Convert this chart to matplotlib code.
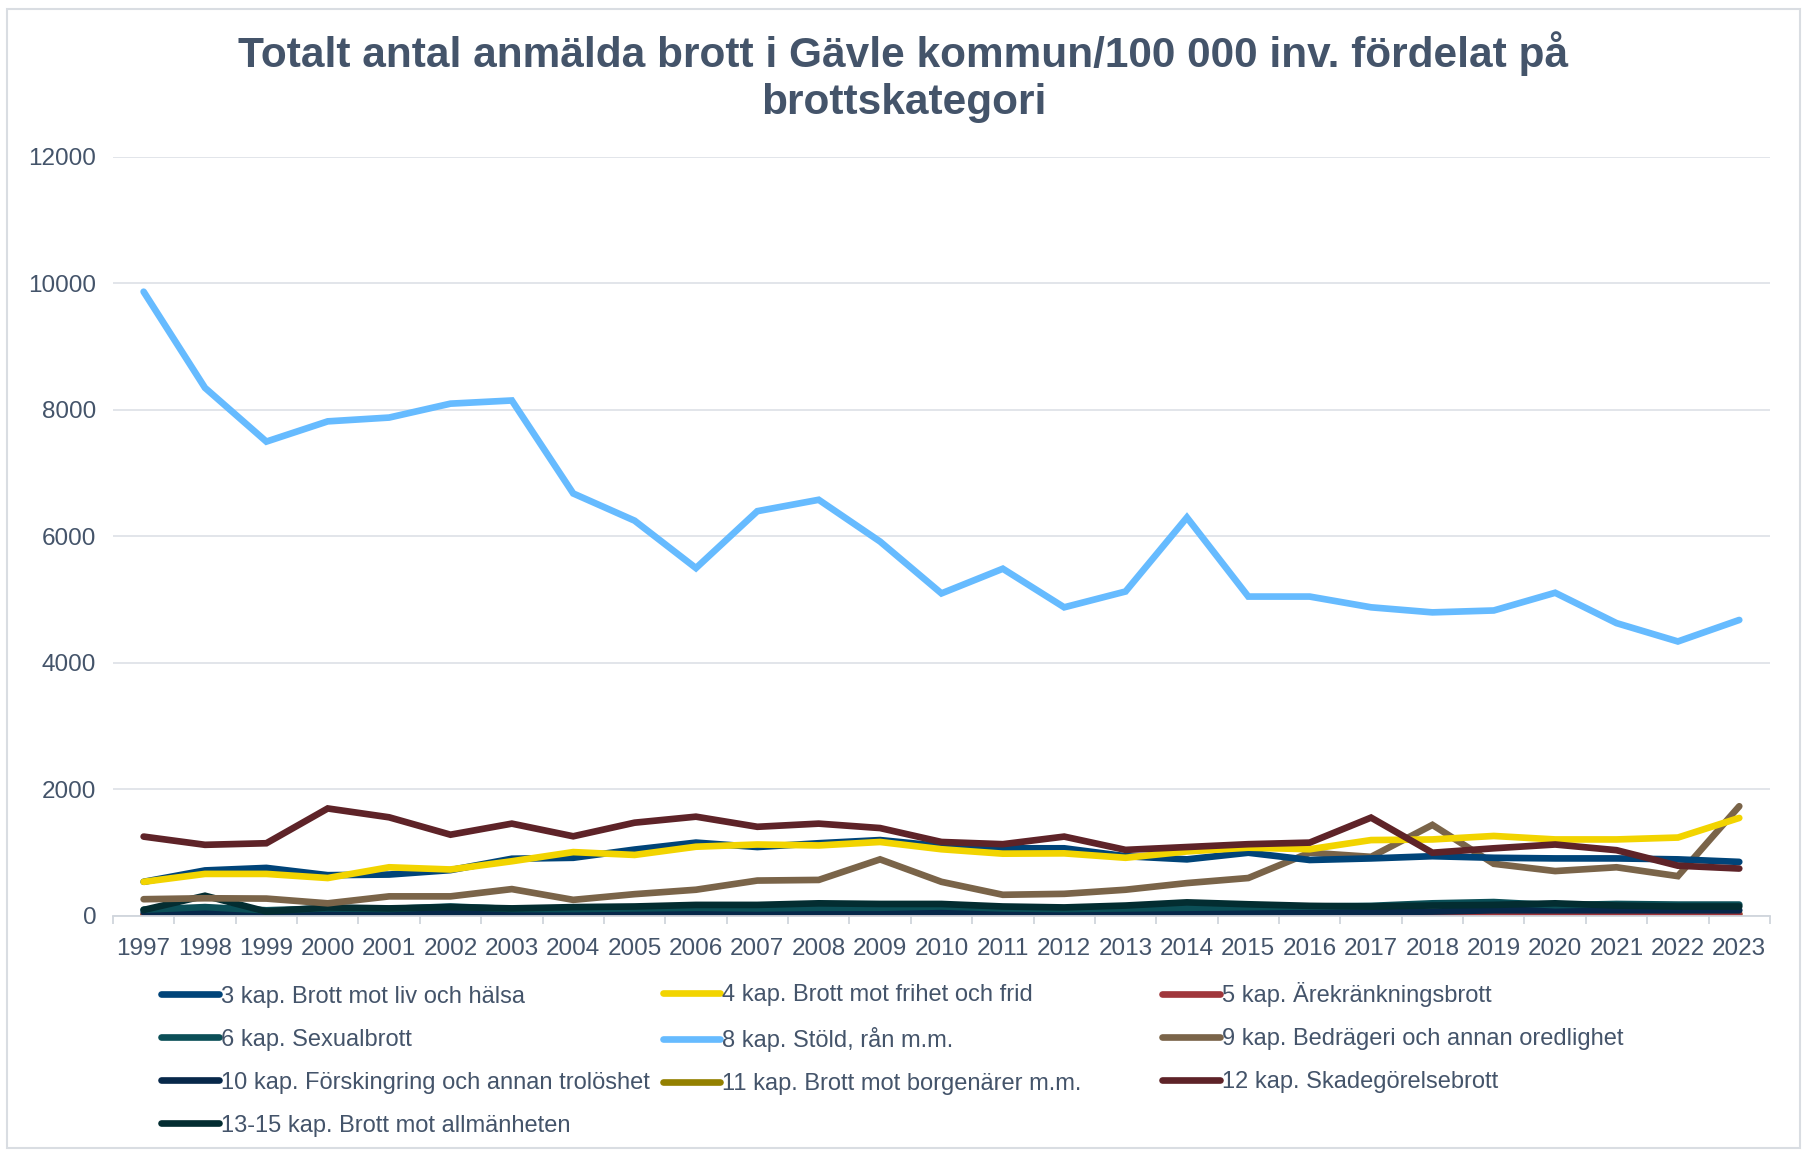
import matplotlib
matplotlib.use('Agg')
import matplotlib.pyplot as plt
from matplotlib.patches import Rectangle

plt.rcParams['font.family'] = ['Liberation Sans', 'DejaVu Sans']

years = list(range(1997, 2024))

# 3 kap. Brott mot liv och hälsa
liv_halsa = [540, 720, 760, 645, 655, 725, 905, 920, 1050, 1160, 1090, 1150, 1200, 1105, 1070,
             1070, 945, 895, 1000, 885, 910, 945, 920, 910, 910, 895, 855]
# 4 kap. Brott mot frihet och frid
frihet_frid = [540, 665, 665, 600, 770, 735, 865, 1010, 965, 1095, 1130, 1115, 1170, 1055, 985,
               990, 920, 1020, 1080, 1055, 1200, 1210, 1265, 1210, 1210, 1240, 1550]
# 5 kap. Ärekränkningsbrott
arekrankning = [20, 20, 20, 25, 25, 25, 30, 30, 30, 35, 35, 35, 40, 45, 45,
                45, 45, 45, 45, 45, 30, 30, 35, 35, 30, 30, 30]
# 6 kap. Sexualbrott
sexualbrott = [100, 140, 90, 120, 110, 150, 110, 110, 120, 130, 120, 130, 130, 150, 120,
               110, 120, 130, 140, 150, 160, 200, 220, 170, 190, 180, 180]
# 8 kap. Stöld, rån m.m.
stold = [9870, 8350, 7500, 7820, 7880, 8100, 8150, 6680, 6250, 5500, 6400, 6580, 5920, 5100, 5490,
         4880, 5130, 6300, 5050, 5050, 4880, 4800, 4830, 5110, 4630, 4340, 4680]
# 9 kap. Bedrägeri och annan oredlighet
bedrageri = [265, 280, 275, 200, 310, 310, 425, 255, 345, 415, 560, 570, 895, 540, 335,
             350, 415, 520, 600, 1000, 935, 1440, 825, 710, 770, 630, 1735]
# 10 kap. Förskingring och annan trolöshet
forskingring = [60, 55, 50, 55, 55, 55, 55, 60, 60, 60, 60, 65, 65, 60, 60,
                60, 55, 55, 55, 55, 60, 70, 90, 90, 90, 90, 90]
# 11 kap. Brott mot borgenärer m.m.
borgenarer = [20, 20, 20, 20, 20, 20, 20, 20, 20, 20, 20, 20, 20, 20, 20,
              20, 20, 20, 20, 20, 20, 25, 40, 35, 30, 30, 30]
# 12 kap. Skadegörelsebrott
skadegorelse = [1255, 1125, 1150, 1700, 1560, 1285, 1460, 1260, 1475, 1570, 1410, 1460, 1390, 1170, 1135,
                1255, 1045, 1090, 1135, 1160, 1555, 1000, 1070, 1130, 1040, 795, 750]
# 13-15 kap. Brott mot allmänheten
allmanheten = [95, 320, 70, 135, 120, 140, 120, 140, 150, 175, 175, 200, 190, 190, 150,
               135, 165, 215, 185, 160, 150, 165, 175, 200, 165, 150, 150]

series = [
    ('3 kap. Brott mot liv och hälsa', liv_halsa, '#004479'),
    ('4 kap. Brott mot frihet och frid', frihet_frid, '#f2d400'),
    ('5 kap. Ärekränkningsbrott', arekrankning, '#a0363b'),
    ('6 kap. Sexualbrott', sexualbrott, '#0b4f57'),
    ('8 kap. Stöld, rån m.m.', stold, '#66bbff'),
    ('9 kap. Bedrägeri och annan oredlighet', bedrageri, '#7a6449'),
    ('10 kap. Förskingring och annan trolöshet', forskingring, '#07284a'),
    ('11 kap. Brott mot borgenärer m.m.', borgenarer, '#938000'),
    ('12 kap. Skadegörelsebrott', skadegorelse, '#5e2328'),
    ('13-15 kap. Brott mot allmänheten', allmanheten, '#032d31'),
]

text_color = '#44546a'
grid_color = '#dfe3e8'

fig = plt.figure(figsize=(18.07, 11.5), dpi=100)
fig.patches.append(Rectangle((0.004, 0.002), 0.992, 0.990, transform=fig.transFigure,
                             fill=False, edgecolor='#d9dde2', linewidth=1.5))

ax = fig.add_axes([0.0625, 0.2035, 0.917, 0.66])

# draw order: the small series first, then the larger ones on top
draw_order = [7, 2, 6, 3, 9, 5, 0, 1, 8, 4]
handles = {}
for i in draw_order:
    label, vals, color = series[i]
    line, = ax.plot(years, vals, color=color, linewidth=4.8, solid_joinstyle='miter',
                    solid_capstyle='round', label=label)
    handles[i] = line

ax.set_xlim(1996.5, 2023.5)
ax.set_ylim(0, 12000)
ax.set_yticks(range(0, 12001, 2000))
ax.set_xticks(years)
ax.set_xticks([y + 0.5 for y in range(1996, 2024)], minor=True)
ax.grid(axis='y', color=grid_color, linewidth=1.3)
ax.set_axisbelow(True)
for side in ['left', 'right', 'top']:
    ax.spines[side].set_visible(False)
ax.spines['bottom'].set_color('#d0d5dc')
ax.spines['bottom'].set_linewidth(1.3)
ax.tick_params(axis='y', length=0, pad=12, labelsize=17.5, labelcolor=text_color)
ax.tick_params(axis='x', which='major', length=0, pad=16, labelsize=17.5, labelcolor=text_color)
ax.tick_params(axis='x', which='minor', length=6, width=1.3, color='#d0d5dc')

fig.text(0.5, 0.933, 'Totalt antal anmälda brott i Gävle kommun/100 000 inv. fördelat på\nbrottskategori',
         ha='center', va='center', fontsize=30.5, fontweight='bold', color=text_color,
         linespacing=1.24)

# legend filled row by row, three fixed-width columns
columns = [[0, 3, 6, 9], [1, 4, 7], [2, 5, 8]]
col_x = [0.0893, 0.3667, 0.643]
col_top = [0.143, 0.144, 0.146]
for idx, x, top in zip(columns, col_x, col_top):
    leg = fig.legend([handles[i] for i in idx], [series[i][0] for i in idx],
                     loc='upper left', bbox_to_anchor=(x, top), frameon=False,
                     fontsize=17, handlelength=2.45, handletextpad=0.08,
                     labelspacing=0.89, borderaxespad=0, borderpad=0)
    for t in leg.get_texts():
        t.set_color(text_color)

plt.savefig('out.png', dpi=100)
